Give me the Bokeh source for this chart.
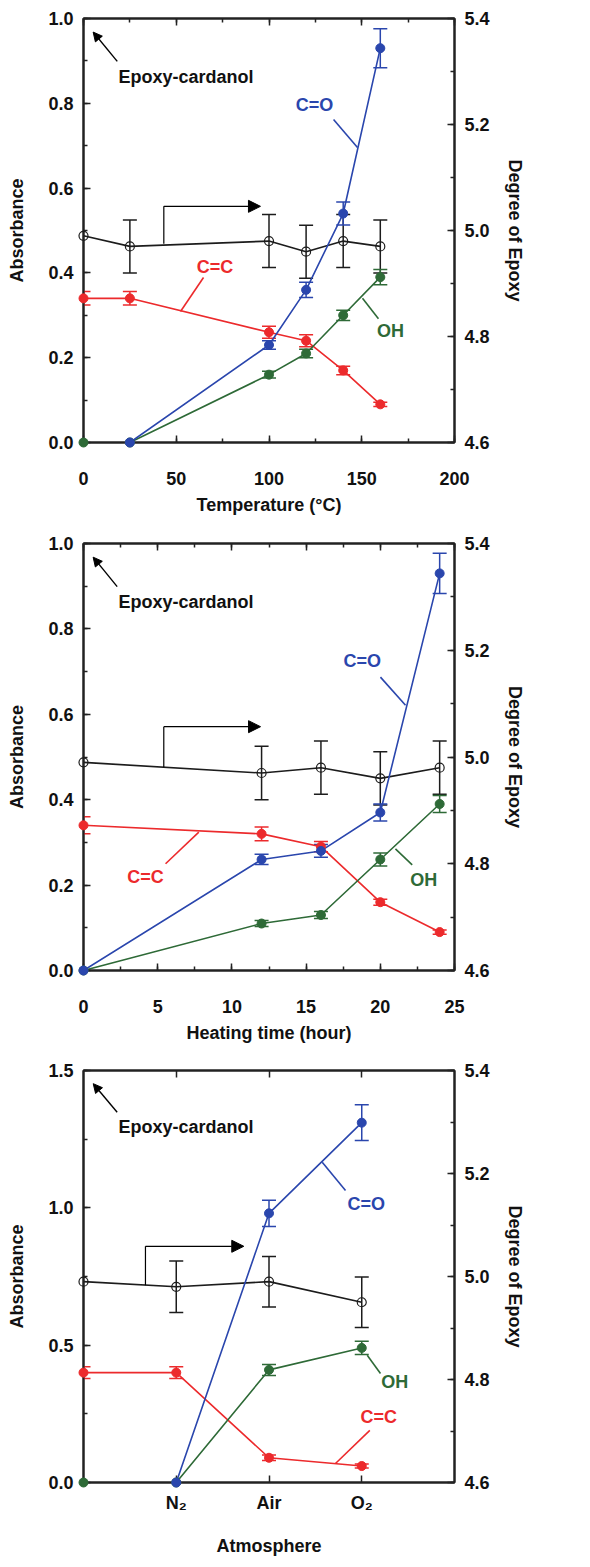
from bokeh.plotting import figure
from bokeh.models import (Range1d, LinearAxis, Whisker, TeeHead, ColumnDataSource,
                          Arrow, NormalHead, FixedTicker, SingleIntervalTicker,
                          PrintfTickFormatter, CustomLabelingPolicy)
from bokeh.layouts import column
from bokeh.embed import file_html
from bokeh.resources import INLINE
from bokeh.core.properties import value

FONT = "Liberation Sans"
BLUE = "#2a46ad"
RED = "#ec2a2c"
GREEN = "#2e6a37"
BLACK = "#1c1c1c"
AXC = "#222222"

# ---------------- data: panel 1 (temperature) ----------------
temp_x = [0, 25, 100, 120, 140, 160]
temp_co_x = [25, 100, 120, 140, 160]
temp_co = [0.0, 0.23, 0.36, 0.54, 0.93]
temp_co_err = [0.0, 0.010, 0.018, 0.027, 0.046]
temp_oh = [0.0, 0.0, 0.16, 0.21, 0.30, 0.39]
temp_oh_err = [0.0, 0.0, 0.008, 0.010, 0.012, 0.018]
temp_cc = [0.34, 0.34, 0.26, 0.24, 0.17, 0.09]
temp_cc_err = [0.016, 0.016, 0.014, 0.014, 0.010, 0.005]
temp_epoxy = [4.99, 4.97, 4.98, 4.96, 4.98, 4.97]
temp_epoxy_err = [0.0, 0.05, 0.05, 0.05, 0.05, 0.05]

# ---------------- data: panel 2 (heating time) ----------------
time_x = [0, 12, 16, 20, 24]
time_co = [0.0, 0.26, 0.28, 0.37, 0.93]
time_co_err = [0.0, 0.012, 0.015, 0.020, 0.047]
time_oh = [0.0, 0.11, 0.13, 0.26, 0.39]
time_oh_err = [0.0, 0.007, 0.008, 0.015, 0.020]
time_cc = [0.34, 0.32, 0.29, 0.16, 0.09]
time_cc_err = [0.020, 0.016, 0.012, 0.007, 0.005]
time_epoxy = [4.99, 4.97, 4.98, 4.96, 4.98]
time_epoxy_err = [0.0, 0.05, 0.05, 0.05, 0.05]

# ---------------- data: panel 3 (atmosphere) ----------------
atm_categories = ["N\u2082", "Air", "O\u2082"]
atm_x = [0, 1, 2, 3]          # 0 = untreated epoxy-cardanol reference
atm_co_x = [1, 2, 3]
atm_co = [0.0, 0.98, 1.31]
atm_co_err = [0.0, 0.048, 0.065]
atm_oh = [0.0, 0.0, 0.41, 0.49]
atm_oh_err = [0.0, 0.0, 0.020, 0.024]
atm_cc = [0.40, 0.40, 0.09, 0.06]
atm_cc_err = [0.021, 0.021, 0.010, 0.007]
atm_epoxy = [4.99, 4.98, 4.99, 4.95]
atm_epoxy_err = [0.0, 0.05, 0.049, 0.049]

# ---------------- annotation placement (data coordinates) ----------------
temp_notes = dict(
    arrow=(18.2, 0.899, 5.2, 0.968), text=(18.9, 0.862), bent=(43.3, 0.469, 0.557, 95.4),
    labels=[("C=O", 124.5, 0.797, BLUE), ("C=C", 70.9, 0.413, RED), ("OH", 165.5, 0.262, GREEN)],
    leaders=[(134.8, 0.762, 147.7, 0.696, BLUE), (64.7, 0.389, 52.3, 0.309, RED),
             (159.0, 0.292, 150.4, 0.340, GREEN)])
time_notes = dict(
    arrow=(2.27, 0.899, 0.65, 0.968), text=(2.36, 0.8625), bent=(5.41, 0.476, 0.571, 11.93),
    labels=[("C=O", 18.78, 0.724, BLUE), ("C=C", 4.18, 0.2185, RED), ("OH", 22.93, 0.212, GREEN)],
    leaders=[(20.01, 0.687, 21.7, 0.621, BLUE), (5.53, 0.250, 7.77, 0.324, RED),
             (22.15, 0.2475, 21.02, 0.285, GREEN)])
atm_notes = dict(
    arrow=(0.363, 1.348, 0.105, 1.452), text=(0.377, 1.294), bent=(0.668, 0.718, 0.86, 1.728),
    labels=[("C=O", 3.048, 1.0125, BLUE), ("OH", 3.356, 0.366, GREEN), ("C=C", 3.184, 0.2387, RED)],
    leaders=[(2.825, 1.063, 2.574, 1.166, BLUE), (3.202, 0.3966, 3.059, 0.463, GREEN),
             (3.087, 0.190, 2.717, 0.069, RED)])


def style_axis(ax):
    ax.axis_line_width = 2
    ax.axis_line_color = AXC
    ax.major_tick_in = 7
    ax.major_tick_out = 0
    ax.minor_tick_in = 4
    ax.minor_tick_out = 0
    ax.major_tick_line_width = 1.5
    ax.minor_tick_line_width = 1.5
    ax.major_tick_line_color = AXC
    ax.minor_tick_line_color = AXC
    ax.major_label_text_font = FONT
    ax.major_label_text_font_style = "bold"
    ax.major_label_text_font_size = "18px"
    ax.major_label_text_color = "#111111"
    ax.axis_label_text_font = FONT
    ax.axis_label_text_font_style = "bold"
    ax.axis_label_text_font_size = "18px"
    ax.axis_label_text_color = "#111111"


def make_ticker(kind, interval=None, minor=0, ticks=None):
    if kind == "fixed":
        return FixedTicker(ticks=ticks)
    return SingleIntervalTicker(interval=interval, num_minor_ticks=minor)


def panel(height, bottom, xr, yr, xt, yt, xlabel, xstand, xtitle_stand, overrides=None):
    p = figure(width=590, height=height, x_range=Range1d(*xr), y_range=Range1d(*yr),
               output_backend="svg", toolbar_location=None,
               min_border_left=83, min_border_right=136, min_border_top=18,
               min_border_bottom=bottom)
    p.xgrid.visible = False
    p.ygrid.visible = False
    p.outline_line_color = AXC
    p.outline_line_width = 2
    p.background_fill_color = "white"
    p.border_fill_color = "white"

    p.xaxis.ticker = make_ticker(*xt)
    p.yaxis.ticker = make_ticker(*yt)
    p.yaxis.formatter = PrintfTickFormatter(format="%.1f")
    p.xaxis.axis_label = xlabel
    p.yaxis.axis_label = "Absorbance"
    if overrides:
        p.xaxis.major_label_overrides = overrides
    style_axis(p.xaxis[0])
    style_axis(p.yaxis[0])
    p.xaxis.major_label_standoff = xstand
    p.xaxis.axis_label_standoff = xtitle_stand
    p.yaxis.major_label_standoff = 10
    p.yaxis.axis_label_standoff = 18

    p.extra_y_ranges = {"right": Range1d(4.6, 5.4)}
    right = LinearAxis(y_range_name="right", axis_label="Degree of Epoxy",
                       ticker=SingleIntervalTicker(interval=0.2, num_minor_ticks=2),
                       formatter=PrintfTickFormatter(format="%.1f"))
    style_axis(right)
    right.major_label_standoff = 10
    right.axis_label_standoff = 12
    p.add_layout(right, "right")

    # mirrored tick marks along the top edge, without labels
    top = LinearAxis(ticker=make_ticker(*xt))
    style_axis(top)
    top.major_label_standoff = 0
    top.major_label_policy = CustomLabelingPolicy(
        code="for (let i = 0; i < indices.size; i++) { indices.unset(i) } return indices")
    p.add_layout(top, "above")
    return p


def series(p, x, y, err, color, line_from=0, rng="default", open_marker=False):
    p.line(x[line_from:], y[line_from:], line_color=color, line_width=1.6, y_range_name=rng)
    xs = [a for a, e in zip(x, err) if e > 0]
    up = [b + e for b, e in zip(y, err) if e > 0]
    lo = [b - e for b, e in zip(y, err) if e > 0]
    if xs:
        src = ColumnDataSource(dict(base=xs, upper=up, lower=lo))
        w = Whisker(source=src, base="base", upper="upper", lower="lower",
                    line_color=color, line_width=1.5, y_range_name=rng,
                    upper_head=TeeHead(size=14, line_color=color, line_width=1.5),
                    lower_head=TeeHead(size=14, line_color=color, line_width=1.5))
        p.add_layout(w)
    if open_marker:
        p.scatter(x, y, size=9, marker="circle", line_color=color, line_width=1.2,
                  fill_color=None, y_range_name=rng, level="overlay")
    else:
        p.scatter(x, y, size=9, marker="circle", line_color=color, fill_color=color,
                  y_range_name=rng, level="overlay")


def notes(p, n):
    x0, y0, x1, y1 = n["arrow"]
    p.add_layout(Arrow(end=NormalHead(size=9, line_color="black", fill_color="black", line_width=1),
                       x_start=x0, y_start=y0, x_end=x1, y_end=y1,
                       line_color="black", line_width=1.4))
    p.text(x=[n["text"][0]], y=[n["text"][1]], text=["Epoxy-cardanol"],
           text_font=value(FONT), text_font_style="bold", text_font_size="18px",
           text_color="#111111", text_align="left", text_baseline="middle")
    bx, by0, by1, bx1 = n["bent"]
    p.segment(x0=[bx], y0=[by0], x1=[bx], y1=[by1], line_color="black", line_width=1.2)
    p.add_layout(Arrow(end=NormalHead(size=12, line_color="black", fill_color="black", line_width=1),
                       x_start=bx, y_start=by1, x_end=bx1, y_end=by1,
                       line_color="black", line_width=1.2))
    for (t, tx, ty, c) in n["labels"]:
        p.text(x=[tx], y=[ty], text=[t], text_font=value(FONT), text_font_style="bold",
               text_font_size="18px", text_color=c, text_align="center", text_baseline="middle")
    for (a0, b0, a1, b1, c) in n["leaders"]:
        p.segment(x0=[a0], y0=[b0], x1=[a1], y1=[b1], line_color=c, line_width=1.6)


# ---- panel 1 ----
p1 = panel(525, 83, (0, 200), (0, 1.0), ("interval", 50, 2), ("interval", 0.2, 2),
           "Temperature (\u00b0C)", 29, 7)
series(p1, temp_x, temp_epoxy, temp_epoxy_err, BLACK, rng="right", open_marker=True)
series(p1, temp_x, temp_cc, temp_cc_err, RED)
series(p1, temp_x, temp_oh, temp_oh_err, GREEN, line_from=1)
series(p1, temp_co_x, temp_co, temp_co_err, BLUE)
notes(p1, temp_notes)

# ---- panel 2 ----
p2 = panel(527, 82, (0, 25), (0, 1.0), ("interval", 5, 2), ("interval", 0.2, 2),
           "Heating time (hour)", 29, 7)
series(p2, time_x, time_epoxy, time_epoxy_err, BLACK, rng="right", open_marker=True)
series(p2, time_x, time_cc, time_cc_err, RED)
series(p2, time_x, time_oh, time_oh_err, GREEN)
series(p2, time_x, time_co, time_co_err, BLUE)
notes(p2, time_notes)

# ---- panel 3 ----
atm_overrides = {i + 1: lab for i, lab in enumerate(atm_categories)}
p3 = panel(515, 85, (0, 4), (0, 1.5), ("fixed", None, 0, [1, 2, 3]), ("interval", 0.5, 2),
           "Atmosphere", 10, 20, overrides=atm_overrides)
series(p3, atm_x, atm_epoxy, atm_epoxy_err, BLACK, rng="right", open_marker=True)
series(p3, atm_x, atm_cc, atm_cc_err, RED)
series(p3, atm_x, atm_oh, atm_oh_err, GREEN, line_from=1)
series(p3, atm_co_x, atm_co, atm_co_err, BLUE)
notes(p3, atm_notes)

layout = column(p1, p2, p3, spacing=0)
open("out.html", "w").write(file_html(layout, INLINE))
